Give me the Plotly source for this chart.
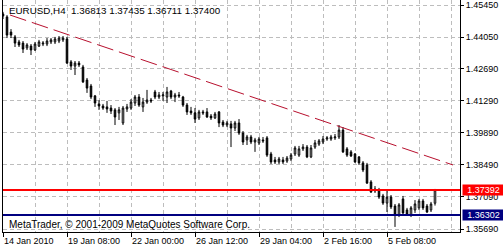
import plotly.graph_objects as go

# ---- data (EURUSD H4 candles) ----
opens = [1.4506, 1.4493, 1.4427, 1.4406, 1.4384, 1.4379, 1.4358, 1.4366, 1.4349, 1.4366,
         1.4375, 1.4375, 1.4384, 1.4384, 1.4388, 1.4393, 1.4397, 1.4297, 1.4279, 1.4292,
         1.4275, 1.4218, 1.4192, 1.4149, 1.4114, 1.4105, 1.4101, 1.4096, 1.4088, 1.4075,
         1.4031, 1.4092, 1.4096, 1.4118, 1.4144, 1.4101, 1.4122, 1.4131, 1.4166, 1.4144,
         1.4149, 1.4144, 1.4170, 1.4144, 1.4153, 1.4144, 1.4109, 1.4083, 1.4075, 1.4053,
         1.4079, 1.4079, 1.4061, 1.4053, 1.4079, 1.4035, 1.4022, 1.4027, 1.4009, 1.4031,
         1.3987, 1.3957, 1.3970, 1.3948, 1.3944, 1.3957, 1.3966, 1.3896, 1.3870, 1.3861,
         1.3870, 1.3865, 1.3874, 1.3896, 1.3891, 1.3918, 1.3926, 1.3883, 1.3926, 1.3939,
         1.3948, 1.3961, 1.3961, 1.3966, 1.3970, 1.4000, 1.3918, 1.3905, 1.3896, 1.3883,
         1.3857, 1.3848, 1.3774, 1.3735, 1.3739, 1.3713, 1.3682, 1.3708, 1.3669, 1.3630,
         1.3700, 1.3652, 1.3630, 1.3652, 1.3661, 1.3691, 1.3669, 1.3652, 1.36813]
highs = [1.4515, 1.4501, 1.4440, 1.4414, 1.4393, 1.4388, 1.4379, 1.4375, 1.4384, 1.4393,
         1.4388, 1.4401, 1.4401, 1.4406, 1.4410, 1.4410, 1.4406, 1.4305, 1.4301, 1.4301,
         1.4284, 1.4227, 1.4201, 1.4153, 1.4131, 1.4114, 1.4127, 1.4109, 1.4096, 1.4101,
         1.4105, 1.4114, 1.4135, 1.4153, 1.4157, 1.4140, 1.4175, 1.4140, 1.4175, 1.4166,
         1.4166, 1.4188, 1.4175, 1.4162, 1.4166, 1.4149, 1.4118, 1.4101, 1.4096, 1.4088,
         1.4088, 1.4096, 1.4070, 1.4079, 1.4083, 1.4044, 1.4040, 1.4040, 1.4040, 1.4048,
         1.3996, 1.3979, 1.3979, 1.3966, 1.3970, 1.3970, 1.3974, 1.3905, 1.3883, 1.3883,
         1.3883, 1.3887, 1.3900, 1.3931, 1.3931, 1.3939, 1.3935, 1.3935, 1.3957, 1.3961,
         1.3974, 1.3974, 1.3979, 1.3983, 1.4022, 1.4013, 1.3926, 1.3913, 1.3900, 1.3887,
         1.3865, 1.3857, 1.3782, 1.3756, 1.3748, 1.3722, 1.3735, 1.3717, 1.3678, 1.3682,
         1.3713, 1.3661, 1.3669, 1.3695, 1.3700, 1.3700, 1.3678, 1.3687, 1.37435]
lows = [1.4484, 1.4401, 1.4401, 1.4362, 1.4362, 1.4336, 1.4349, 1.4327, 1.4345, 1.4362,
        1.4366, 1.4366, 1.4375, 1.4375, 1.4379, 1.4384, 1.4288, 1.4262, 1.4240, 1.4275,
        1.4205, 1.4162, 1.4135, 1.4101, 1.4088, 1.4088, 1.4075, 1.4070, 1.4022, 1.4044,
        1.4022, 1.4079, 1.4088, 1.4105, 1.4101, 1.4079, 1.4114, 1.4118, 1.4135, 1.4135,
        1.4127, 1.4118, 1.4135, 1.4122, 1.4140, 1.4101, 1.4066, 1.4066, 1.4031, 1.4044,
        1.4066, 1.4053, 1.4044, 1.4048, 1.4013, 1.4013, 1.4013, 1.3926, 1.3996, 1.3979,
        1.3935, 1.3935, 1.3939, 1.3905, 1.3935, 1.3944, 1.3883, 1.3852, 1.3852, 1.3852,
        1.3852, 1.3857, 1.3865, 1.3887, 1.3883, 1.3909, 1.3878, 1.3878, 1.3918, 1.3931,
        1.3939, 1.3953, 1.3953, 1.3957, 1.3961, 1.3900, 1.3883, 1.3883, 1.3857, 1.3848,
        1.3817, 1.3765, 1.3726, 1.3726, 1.3700, 1.3674, 1.3643, 1.3656, 1.3578, 1.3621,
        1.3630, 1.3626, 1.3621, 1.3639, 1.3652, 1.3652, 1.3639, 1.3643, 1.36711]
closes = [1.4497, 1.4414, 1.4414, 1.4379, 1.4371, 1.4353, 1.4371, 1.4349, 1.4375, 1.4384,
          1.4379, 1.4388, 1.4393, 1.4397, 1.4401, 1.4401, 1.4292, 1.4279, 1.4292, 1.4284,
          1.4210, 1.4183, 1.4144, 1.4118, 1.4105, 1.4096, 1.4092, 1.4083, 1.4057, 1.4088,
          1.4096, 1.4101, 1.4122, 1.4144, 1.4109, 1.4122, 1.4131, 1.4127, 1.4144, 1.4153,
          1.4153, 1.4166, 1.4144, 1.4153, 1.4149, 1.4109, 1.4079, 1.4075, 1.4048, 1.4079,
          1.4075, 1.4057, 1.4053, 1.4070, 1.4031, 1.4022, 1.4031, 1.4009, 1.4031, 1.3987,
          1.3948, 1.3970, 1.3948, 1.3957, 1.3961, 1.3953, 1.3891, 1.3861, 1.3861, 1.3874,
          1.3861, 1.3878, 1.3891, 1.3922, 1.3918, 1.3926, 1.3883, 1.3922, 1.3944, 1.3953,
          1.3961, 1.3966, 1.3970, 1.3970, 1.4000, 1.3905, 1.3891, 1.3887, 1.3861, 1.3857,
          1.3826, 1.3769, 1.3730, 1.3743, 1.3708, 1.3682, 1.3708, 1.3665, 1.3630, 1.3674,
          1.3639, 1.3630, 1.3661, 1.3678, 1.3691, 1.3661, 1.3643, 1.3678, 1.37400]

x_label_pos = [0, 16, 32, 48, 64, 80, 96]
x_labels = ["14 Jan 2010", "19 Jan 08:00", "22 Jan 00:00", "26 Jan 12:00",
            "29 Jan 04:00", "2 Feb 16:00", "5 Feb 08:00"]
y_ticks = [1.45450, 1.44050, 1.42690, 1.41290, 1.39890, 1.38490, 1.37090, 1.35690]
y_labels = ["1.45450", "1.44050", "1.42690", "1.41290", "1.39890", "1.38490", "1.37090", "1.35690"]

trend_x = [1.75, 112.5]
trend_y = [1.45014, 1.38479]

levels = [1.37392, 1.36302]
level_labels = ["1.37392", "1.36302"]
level_colors = ["#ff0000", "#000080"]

title_text = "EURUSD,H4\u00a0\u00a01.36813 1.37435 1.36711 1.37400"
copyright_text = "MetaTrader, \u00a9 2001-2009 MetaQuotes Software Corp."

bar_index = list(range(len(opens)))

FONT = "Liberation Sans, Arial, sans-serif"
GRID = "#bdbdbd"

fig = go.Figure()
fig.add_trace(go.Candlestick(
    x=bar_index, open=opens, high=highs, low=lows, close=closes,
    increasing=dict(line=dict(color="black", width=1), fillcolor="white"),
    decreasing=dict(line=dict(color="black", width=1), fillcolor="black"),
    whiskerwidth=0, hoverinfo="skip", showlegend=False,
))
fig.add_trace(go.Scatter(
    x=trend_x, y=trend_y, mode="lines",
    line=dict(color="#b8102e", width=1, dash="17px,6px"),
    hoverinfo="skip", showlegend=False,
))

for lv, col in zip(levels, level_colors):
    fig.add_shape(type="line", xref="paper", x0=0, x1=1, yref="y", y0=lv, y1=lv,
                  line=dict(color=col, width=2), layer="above")

annotations = []
for lv, lab, col in zip(levels, level_labels, level_colors):
    annotations.append(dict(
        xref="paper", x=1, xanchor="left", xshift=2,
        yref="y", y=lv, yanchor="middle",
        text=lab, showarrow=False, bgcolor=col, borderpad=0,
        width=41, height=10, align="center",
        font=dict(family=FONT, size=9, color="white"),
    ))
annotations.append(dict(
    xref="paper", x=0, xanchor="left", xshift=4,
    yref="paper", y=1 - 10 / 232, yanchor="middle",
    text=title_text, showarrow=False,
    font=dict(family=FONT, size=9.8, color="black"),
))
annotations.append(dict(
    xref="paper", x=0, xanchor="left", xshift=4,
    yref="paper", y=1 - 224 / 232, yanchor="middle",
    text=copyright_text, showarrow=False,
    font=dict(family=FONT, size=10, color="black"),
))

y_top = 1.45668
y_bot = y_top - 232 / 2295.0

fig.update_layout(
    width=503, height=250,
    margin=dict(l=3, r=43, t=0, b=18, pad=0),
    paper_bgcolor="white", plot_bgcolor="white",
    font=dict(family=FONT, size=9, color="black"),
    hovermode=False, showlegend=False, dragmode=False,
    boxgap=0.45,
    annotations=annotations,
    xaxis=dict(
        range=[0, 457 / 4.0], rangeslider=dict(visible=False),
        tickmode="array", tickvals=x_label_pos, ticktext=x_labels,
        ticks="outside", ticklen=4, tickcolor="black", tickwidth=1,
        ticklabelposition="outside right",
        showline=True, linecolor="black", linewidth=1, mirror=False,
        showgrid=True, gridcolor=GRID, griddash="4px,3px", gridwidth=1,
        minor=dict(tickmode="linear", tick0=0, dtick=8, showgrid=True,
                   gridcolor=GRID, griddash="4px,3px", gridwidth=1, ticks=""),
        zeroline=False, fixedrange=True,
        tickfont=dict(family=FONT, size=9, color="black"),
    ),
    yaxis=dict(
        side="right", range=[y_bot, y_top],
        tickmode="array", tickvals=y_ticks, ticktext=y_labels,
        ticks="outside", ticklen=3, tickcolor="black", tickwidth=1,
        showline=True, linecolor="black", linewidth=1, mirror=True,
        showgrid=True, gridcolor=GRID, griddash="4px,3px", gridwidth=1,
        zeroline=False, fixedrange=True,
        tickfont=dict(family=FONT, size=9, color="black"),
    ),
)

fig.write_html("out.html", config={"displayModeBar": False, "staticPlot": True})
